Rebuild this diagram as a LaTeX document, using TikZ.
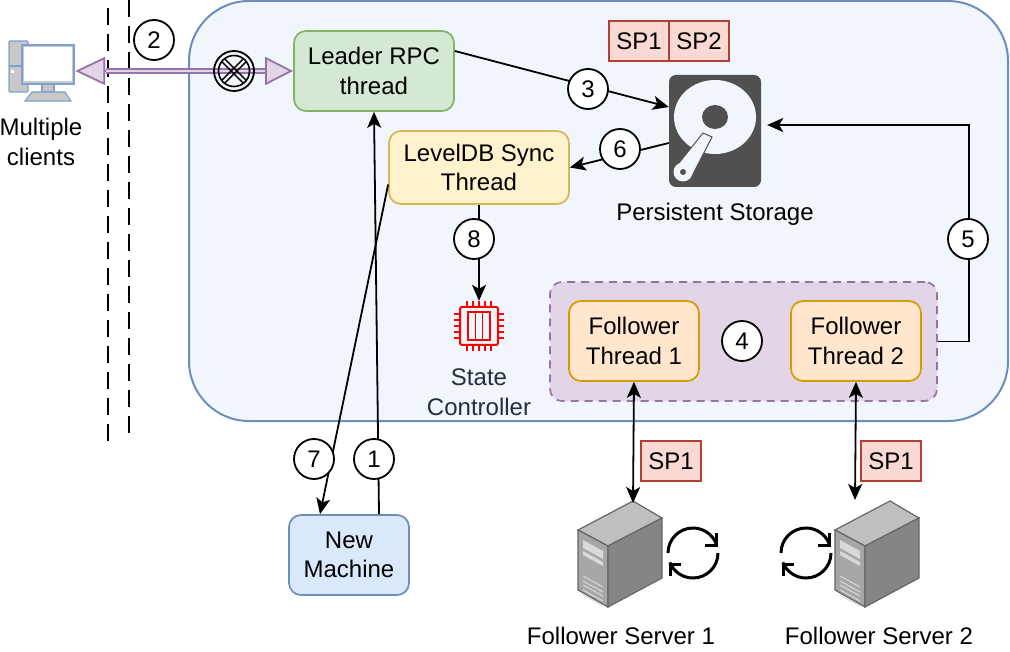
\documentclass[tikz,border=0pt]{standalone}
\usepackage{fontspec}
\setmainfont{Liberation Sans}
\usetikzlibrary{arrows.meta}
\definecolor{panelfill}{HTML}{F1F6FC}
\definecolor{panelline}{HTML}{6C8EBF}
\definecolor{leaderfill}{HTML}{D5E8D4}
\definecolor{leaderline}{HTML}{82B366}
\definecolor{syncfill}{HTML}{FFF2CC}
\definecolor{syncline}{HTML}{D6B656}
\definecolor{groupfill}{HTML}{E1D5E7}
\definecolor{groupline}{HTML}{9673A6}
\definecolor{threadfill}{HTML}{FFE6CC}
\definecolor{threadline}{HTML}{D79B00}
\definecolor{machinefill}{HTML}{DAE8FC}
\definecolor{spfill}{HTML}{FAD9D5}
\definecolor{spline}{HTML}{AE4132}
\definecolor{diskgray}{HTML}{505050}
\definecolor{slatetext}{HTML}{232F3E}
\definecolor{pcgray}{HTML}{C8C8C8}
\definecolor{pcline}{HTML}{7F9FCF}
\tikzset{
  box/.style={draw, rounded corners=12pt, line width=1.7pt, inner sep=0pt, align=center},
  spbox/.style={draw=spline, fill=spfill, line width=1.8pt, inner sep=0pt, minimum width=60pt, minimum height=40pt},
  stepdot/.style={draw, circle, fill=white, line width=1.8pt, inner sep=0pt, minimum size=40pt},
  plain/.style={inner sep=0pt, align=center},
  flow/.style={line width=1.8pt},
  servericon/.pic={
    \fill[fill=black!25, draw=black!60, line width=1.2pt] (633,501) -- (662,518) -- (608,546) -- (578,530) -- cycle;
    \fill[fill=black!35, draw=black!60, line width=1.2pt] (578,530) -- (608,546) -- (608,607) -- (578,590) -- cycle;
    \fill[fill=black!48, draw=black!60, line width=1.2pt] (608,546) -- (662,518) -- (662,578) -- (608,607) -- cycle;
    \fill[white!85!black] (583,540) -- (603,551) -- (603,559) -- (583,548) -- cycle;
    \fill[white!85!black] (583,551) -- (603,562) -- (603,566) -- (583,555) -- cycle;
    \foreach \v in {576,581,585,590,595}
      \draw[white!85!black, line width=1pt] (583,\v) -- (603,\v+11);
  },
  syncicon/.pic={
    \draw[line width=3pt] (-25,0) arc[start angle=180, end angle=22, radius=25pt];
    \draw[line width=3pt] (25,0) arc[start angle=0, end angle=-158, radius=25pt];
    \draw[line width=3pt] (23,-20) -- (23,-8) -- (12,-8);
    \draw[line width=3pt] (-23,23) -- (-23,11) -- (-12,11);
  }
}

\begin{document}
\begin{tikzpicture}[x=1pt, y=-1pt, >={Stealth[length=16pt,width=14pt,inset=4pt]},
    every node/.style={font=\fontsize{24}{29.5}\selectfont}]

    \useasboundingbox (0,0) rectangle (1010,652);

    % Panel and boundary
    \node at (598.5,211) (panel) [box, draw=panelline, fill=panelfill, rounded corners=60pt, line width=2pt, minimum width=819pt, minimum height=420pt] {};
    \draw[line width=2pt, dash pattern=on 17pt off 9pt] (108,8) -- (108,442);
    \draw[line width=2pt, dash pattern=on 17pt off 9pt] (129,0) -- (129,438);

    % Nodes
    \node at (374,71) (leader) [box, draw=leaderline, fill=leaderfill, minimum width=160pt, minimum height=80pt] {Leader RPC\\thread};
    \node at (479,167.5) (leveldb) [box, draw=syncline, fill=syncfill, minimum width=180pt, minimum height=73pt] {LevelDB Sync\\Thread};
    \node at (743.5,341.5) (group) [box, draw=groupline, fill=groupfill, dash pattern=on 8pt off 6pt, minimum width=387pt, minimum height=119pt] {};
    \node at (634,341) (follower one) [box, draw=threadline, fill=threadfill, minimum width=130pt, minimum height=80pt] {Follower\\Thread 1};
    \node at (856,341) (follower two) [box, draw=threadline, fill=threadfill, minimum width=130pt, minimum height=80pt] {Follower\\Thread 2};
    \node at (349,555) (machine) [box, draw=panelline, fill=machinefill, minimum width=120pt, minimum height=80pt] {New\\Machine};
    \node at (639,41) (sp one) [spbox] {SP1};
    \node at (699,41) (sp two) [spbox] {SP2};
    \node at (671,461) (sp three) [spbox] {SP1};
    \node at (891,461) (sp four) [spbox] {SP1};
    \node at (715,131) (disk) [fill=diskgray, rounded corners=7pt, inner sep=0pt, minimum width=92pt, minimum height=112pt] {};
    \node at (479,326) (cpu) [plain, minimum width=50pt, minimum height=50pt] {};
    \node at (41,142) (clients) [plain] {Multiple\\clients};
    \node at (715,214) (storage) [plain] {Persistent Storage};
    \node at (479,392) (controller) [plain, text=slatetext] {State\\Controller};
    \node at (621,636) (server one) [plain] {Follower Server 1};
    \node at (879,636) (server two) [plain] {Follower Server 2};
    \node at (41,71) (pc) [plain, minimum width=68pt, minimum height=60pt] {};
    \coordinate (top one) at (633,503);
    \coordinate (top two) at (855,500);
    \coordinate (turn five) at (969,125);

    % Disk
    \fill[panelfill] (715,117) ellipse[x radius=41pt, y radius=37pt];
    \fill[diskgray] (715,117) ellipse[x radius=13pt, y radius=12pt];
    \filldraw[fill=panelfill, draw=diskgray, line width=1pt] (703,133) -- (712,137) -- (691,178) -- (675,168) -- cycle;
    \fill[panelfill] (683,172) circle[radius=9.5pt];
    \fill[diskgray] (683,172) circle[radius=3pt];

    % Client computer
    \filldraw[fill=pcgray, draw=pcline, line width=1.2pt, rounded corners=1pt] (9,41) rectangle (28,92);
    \draw[pcline, line width=1.2pt] (9,66) -- (22,66);
    \filldraw[fill=pcgray, draw=pcline, line width=1.2pt] (42,83) rectangle (54,92);
    \filldraw[fill=pcgray, draw=pcline, line width=1.2pt] (25,101) -- (32,92) -- (65,92) -- (71,101) -- cycle;
    \filldraw[fill=pcgray, draw=pcline, line width=1.2pt] (22,45) rectangle (74,84);
    \fill[white] (24,47) rectangle (72,81);
    \fill[white] (11,70) rectangle (14,73);

    % State controller chip
    \draw[red, line width=2pt, rounded corners=2pt] (460,307) rectangle (498,345);
    \draw[red, line width=1.6pt] (468,312) rectangle (490,340);
    \draw[red, line width=1.6pt] (475.5,312) -- (475.5,340);
    \draw[red, line width=1.6pt] (482.5,312) -- (482.5,340);
    \foreach \p in {-12,-6,0,6,12} {
      \draw[red, line width=1.6pt] (479+\p,301) -- (479+\p,307);
      \draw[red, line width=1.6pt] (479+\p,345) -- (479+\p,351);
      \draw[red, line width=1.6pt] (454,326+\p) -- (460,326+\p);
      \draw[red, line width=1.6pt] (498,326+\p) -- (504,326+\p);
    }

    % Servers and sync icons
    \pic at (0,0) {servericon};
    \pic at (257,0) {servericon};
    \pic at (693,553) {syncicon};
    \pic at (806,553) {syncicon};

    % Client link
    \draw[{Triangle[length=30pt,width=28pt,fill=groupfill]}-{Triangle[length=28pt,width=28pt,fill=groupfill]}, draw=groupline, line width=1.8pt] (pc.east) -- (leader.west);
    \draw[groupline, double=groupfill, double distance=2pt, line width=1.8pt] ([xshift=31pt]pc.east) -- ([xshift=-28pt]leader.west);
    \draw[line width=1.8pt] (234,71) circle[radius=20pt];
    \draw[line width=1.6pt] (234,71) circle[radius=15.5pt];
    \foreach \a in {45,135} {
      \draw[line width=1.4pt, rotate around={\a:(234,71)}] (218.5,69) -- (249.5,69);
      \draw[line width=1.4pt, rotate around={\a:(234,71)}] (218.5,73) -- (249.5,73);
    }

    % Arrows
    \draw[->, flow] ([xshift=30pt]machine.north) -- (leader.south);
    \draw[->, flow] ([yshift=-17pt]leveldb.west) -- ([xshift=-29pt]machine.north);
    \draw[->, flow] ([yshift=20pt]leader.east) -- ([yshift=24pt]disk.west);
    \draw[->, flow] ([yshift=-12pt]disk.west) -- (leveldb.east);
    \draw[->, flow] (leveldb.south) -- (cpu.north);
    \draw[->, flow] (group.east) -| (turn five) -- ([shift={(6pt,6pt)}]disk.east);
    \draw[<->, flow] (follower one.south) -- (top one);
    \draw[<->, flow] (follower two.south) -- (top two);

    % Step labels
    \node at (154,40) (two) [stepdot] {2};
    \node at (588,89) (three) [stepdot] {3};
    \node at (620,149) (six) [stepdot] {6};
    \node at (474,239) (eight) [stepdot] {8};
    \node at (968,239) (five) [stepdot] {5};
    \node at (742,341) (four) [stepdot] {4};
    \node at (314,459) (seven) [stepdot] {7};
    \node at (374,459) (one) [stepdot] {1};

\end{tikzpicture}
\end{document}
